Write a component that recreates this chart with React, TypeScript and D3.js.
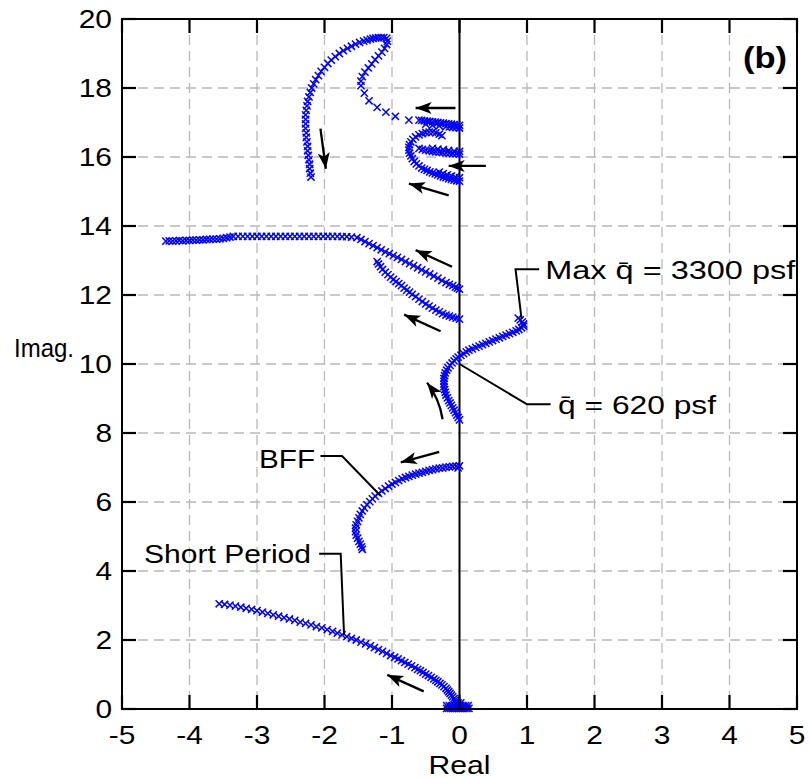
import React from 'react';
import * as d3 from 'd3';

type P = [number, number];

const xTicks = [-5, -4, -3, -2, -1, 0, 1, 2, 3, 4, 5];
const yTicks = [0, 2, 4, 6, 8, 10, 12, 14, 16, 18, 20];
const xTickLabels = ['-5', '-4', '-3', '-2', '-1', '0', '1', '2', '3', '4', '5'];
const yTickLabels = ['0', '2', '4', '6', '8', '10', '12', '14', '16', '18', '20'];

// Short period locus
const shortPeriod: P[] = [
  [-3.56, 3.05], [-3.48, 3.03], [-3.40, 3.01], [-3.32, 2.98], [-3.24, 2.95], [-3.16, 2.92], [-3.08, 2.89],
  [-3.00, 2.85], [-2.92, 2.81], [-2.84, 2.77], [-2.76, 2.73], [-2.68, 2.69], [-2.60, 2.65], [-2.52, 2.61],
  [-2.44, 2.57], [-2.36, 2.52], [-2.28, 2.48], [-2.20, 2.44], [-2.12, 2.39], [-2.04, 2.35], [-1.96, 2.30],
  [-1.88, 2.25], [-1.81, 2.20], [-1.74, 2.15], [-1.67, 2.10], [-1.60, 2.05], [-1.53, 2.00], [-1.46, 1.94],
  [-1.39, 1.89], [-1.32, 1.83], [-1.26, 1.78], [-1.20, 1.72], [-1.14, 1.67], [-1.08, 1.61], [-1.02, 1.55],
  [-0.96, 1.50], [-0.91, 1.45], [-0.86, 1.40], [-0.81, 1.35], [-0.76, 1.30], [-0.71, 1.25], [-0.66, 1.20],
  [-0.62, 1.15], [-0.58, 1.11], [-0.54, 1.06], [-0.50, 1.01], [-0.46, 0.97], [-0.42, 0.92], [-0.38, 0.87],
  [-0.35, 0.83], [-0.32, 0.79], [-0.29, 0.74], [-0.26, 0.70], [-0.23, 0.65], [-0.20, 0.60], [-0.18, 0.55],
  [-0.16, 0.50], [-0.14, 0.45], [-0.12, 0.40], [-0.10, 0.35], [-0.08, 0.30], [-0.07, 0.25], [-0.05, 0.20],
  [-0.04, 0.15], [-0.03, 0.11], [-0.02, 0.07], [-0.01, 0.04],
];

// Cluster of roots sitting on the real axis near the origin
const originCluster: P[] = [
  [-0.19, 0.02], [-0.16, 0.02], [-0.13, 0.02], [-0.10, 0.02], [-0.07, 0.02], [-0.04, 0.02], [-0.01, 0.02],
  [0.02, 0.02], [0.05, 0.02], [0.08, 0.02], [0.11, 0.02], [0.14, 0.02],
  [-0.19, 0.10], [-0.15, 0.10], [-0.11, 0.10], [-0.07, 0.10], [-0.03, 0.10], [0.01, 0.10], [0.05, 0.10],
  [0.09, 0.10], [0.13, 0.10], [-0.06, 0.18], [-0.02, 0.18], [0.02, 0.18],
];

// BFF locus
const bff: P[] = [
  [0.00, 7.05], [-0.02, 6.99], [-0.05, 7.04], [-0.10, 7.03], [-0.15, 7.02], [-0.20, 7.01], [-0.25, 6.99],
  [-0.30, 6.98], [-0.35, 6.96], [-0.40, 6.94], [-0.45, 6.92], [-0.50, 6.89], [-0.55, 6.86], [-0.60, 6.84],
  [-0.65, 6.81], [-0.70, 6.78], [-0.75, 6.74], [-0.80, 6.71], [-0.85, 6.67], [-0.90, 6.62], [-0.95, 6.57],
  [-1.00, 6.52], [-1.05, 6.46], [-1.10, 6.39], [-1.15, 6.32], [-1.20, 6.25], [-1.25, 6.17], [-1.29, 6.09],
  [-1.33, 6.01], [-1.37, 5.92], [-1.41, 5.83], [-1.44, 5.74], [-1.47, 5.64], [-1.49, 5.54], [-1.51, 5.44],
  [-1.53, 5.34], [-1.54, 5.24], [-1.54, 5.14], [-1.53, 5.04], [-1.51, 4.95], [-1.49, 4.86], [-1.47, 4.78],
  [-1.45, 4.70], [-1.44, 4.63],
];

// Mode that crosses into the right half plane (q-bar 620 psf -> 3300 psf)
const qbarMode: P[] = [
  [0.00, 8.38], [-0.02, 8.45], [-0.04, 8.52], [-0.06, 8.59], [-0.08, 8.66], [-0.10, 8.73], [-0.12, 8.80],
  [-0.14, 8.87], [-0.16, 8.94], [-0.18, 9.02], [-0.20, 9.10], [-0.21, 9.18], [-0.22, 9.26], [-0.23, 9.34],
  [-0.23, 9.42], [-0.23, 9.50], [-0.23, 9.58], [-0.22, 9.66], [-0.21, 9.74], [-0.19, 9.82], [-0.17, 9.89],
  [-0.14, 9.96], [-0.11, 10.03], [-0.08, 10.09], [-0.05, 10.15], [-0.02, 10.20], [0.02, 10.25], [0.06, 10.30],
  [0.10, 10.35], [0.14, 10.40], [0.19, 10.44], [0.24, 10.48], [0.29, 10.52], [0.34, 10.56], [0.39, 10.60],
  [0.44, 10.64], [0.49, 10.68], [0.54, 10.72], [0.59, 10.76], [0.64, 10.80], [0.69, 10.84], [0.74, 10.88],
  [0.79, 10.92], [0.84, 10.96], [0.88, 11.00], [0.92, 11.05], [0.95, 11.10], [0.95, 11.16], [0.93, 11.22],
  [0.90, 11.28], [0.87, 11.33],
];

// Upper mode near 12-14
const mode12a: P[] = [
  [-4.35, 13.56], [-4.30, 13.57], [-4.25, 13.56], [-4.20, 13.57], [-4.15, 13.58], [-4.10, 13.57], [-4.05, 13.58],
  [-4.00, 13.58], [-3.95, 13.59], [-3.90, 13.59], [-3.85, 13.60], [-3.80, 13.60], [-3.75, 13.61], [-3.70, 13.61],
  [-3.65, 13.62], [-3.60, 13.62], [-3.55, 13.63], [-3.50, 13.64], [-3.45, 13.66], [-3.40, 13.68], [-3.35, 13.70],
  [-3.28, 13.70], [-3.21, 13.70], [-3.14, 13.70], [-3.07, 13.70], [-3.00, 13.70], [-2.93, 13.70], [-2.86, 13.70],
  [-2.79, 13.70], [-2.72, 13.70], [-2.65, 13.70], [-2.58, 13.70], [-2.51, 13.70], [-2.44, 13.70], [-2.37, 13.70],
  [-2.30, 13.70], [-2.23, 13.70], [-2.16, 13.70], [-2.09, 13.70], [-2.02, 13.70], [-1.95, 13.70], [-1.88, 13.70],
  [-1.81, 13.70], [-1.74, 13.69], [-1.67, 13.69], [-1.60, 13.68], [-1.52, 13.66],
  [-1.46, 13.61], [-1.40, 13.55], [-1.34, 13.49], [-1.28, 13.43], [-1.22, 13.37], [-1.16, 13.31], [-1.10, 13.25],
  [-1.04, 13.20], [-0.98, 13.14], [-0.92, 13.09], [-0.86, 13.03], [-0.80, 12.97], [-0.74, 12.91], [-0.68, 12.85],
  [-0.62, 12.79], [-0.56, 12.73], [-0.50, 12.67], [-0.44, 12.61], [-0.38, 12.55], [-0.32, 12.49], [-0.26, 12.42],
  [-0.20, 12.36], [-0.15, 12.31], [-0.10, 12.27], [-0.06, 12.23], [-0.03, 12.20], [0.00, 12.17],
];

// Lower mode near 11-13
const mode12b: P[] = [
  [-1.22, 12.97], [-1.20, 12.90], [-1.17, 12.82], [-1.14, 12.74], [-1.10, 12.66], [-1.06, 12.59], [-1.02, 12.52],
  [-0.98, 12.45], [-0.94, 12.39], [-0.90, 12.33], [-0.86, 12.27], [-0.82, 12.20], [-0.78, 12.14], [-0.74, 12.08],
  [-0.70, 12.02], [-0.65, 11.95], [-0.60, 11.88], [-0.55, 11.81], [-0.50, 11.74], [-0.45, 11.68], [-0.40, 11.62],
  [-0.35, 11.56], [-0.30, 11.51], [-0.25, 11.46], [-0.20, 11.42], [-0.15, 11.39], [-0.10, 11.36], [-0.05, 11.33],
  [0.00, 11.30],
];

// Top mode: band at 17, tail, inner branch, peak and outer arc
const mode16a: P[] = [
  [0.00, 16.92], [-0.04, 16.93], [-0.08, 16.94], [-0.12, 16.95], [-0.16, 16.96], [-0.20, 16.97], [-0.24, 16.98],
  [-0.28, 16.99], [-0.32, 17.00], [-0.36, 17.01], [-0.40, 17.02], [-0.44, 17.03], [-0.48, 17.04], [-0.52, 17.05],
  [-0.56, 17.06], [-0.60, 17.07], [0.00, 16.84], [-0.05, 16.85], [-0.10, 16.86], [-0.15, 16.87], [-0.20, 16.88],
  [-0.30, 16.90], [-0.40, 16.92], [-0.50, 16.95],
  [-0.75, 17.07], [-0.95, 17.18], [-1.09, 17.30], [-1.22, 17.44], [-1.34, 17.63], [-1.41, 17.85], [-1.46, 18.07],
  [-1.46, 18.20], [-1.44, 18.33], [-1.40, 18.46], [-1.35, 18.58], [-1.30, 18.70], [-1.25, 18.82], [-1.20, 18.93],
  [-1.15, 19.04], [-1.11, 19.15], [-1.08, 19.26], [-1.07, 19.36],
  [-1.08, 19.44], [-1.12, 19.46], [-1.16, 19.46], [-1.20, 19.46], [-1.24, 19.45], [-1.28, 19.44], [-1.32, 19.42],
  [-1.37, 19.39], [-1.42, 19.36], [-1.48, 19.32], [-1.54, 19.27], [-1.60, 19.21], [-1.66, 19.15], [-1.72, 19.08],
  [-1.78, 19.00], [-1.84, 18.91], [-1.90, 18.81], [-1.95, 18.71], [-2.00, 18.60], [-2.05, 18.48], [-2.09, 18.36],
  [-2.13, 18.24], [-2.16, 18.12], [-2.19, 18.00], [-2.21, 17.87], [-2.23, 17.74], [-2.25, 17.61], [-2.26, 17.48],
  [-2.27, 17.35], [-2.28, 17.22], [-2.28, 17.09], [-2.28, 16.96], [-2.28, 16.83], [-2.27, 16.70], [-2.27, 16.57],
  [-2.26, 16.44], [-2.25, 16.31], [-2.25, 16.18], [-2.24, 16.05], [-2.23, 15.92], [-2.22, 15.79], [-2.22, 15.66],
  [-2.21, 15.53], [-2.20, 15.42],
];

// C-shaped mode from 15.3 curling up to 16.7
const mode16b: P[] = [
  [0.00, 15.30], [-0.04, 15.31], [-0.08, 15.33], [-0.12, 15.35], [-0.16, 15.37], [-0.20, 15.40], [-0.24, 15.42],
  [-0.28, 15.45], [-0.32, 15.48], [-0.36, 15.51], [-0.40, 15.54], [-0.44, 15.57], [-0.48, 15.61], [-0.52, 15.64],
  [-0.56, 15.68], [-0.60, 15.74], [-0.64, 15.80], [-0.67, 15.87], [-0.70, 15.95], [-0.72, 16.03], [-0.74, 16.11],
  [-0.75, 16.20], [-0.75, 16.28], [-0.74, 16.36], [-0.72, 16.44], [-0.69, 16.51], [-0.65, 16.58], [-0.60, 16.64],
  [-0.55, 16.68], [-0.50, 16.71], [-0.45, 16.72], [-0.40, 16.72], [-0.35, 16.70], [-0.30, 16.66], [-0.26, 16.62],
  [0.00, 15.40], [-0.06, 15.42], [-0.12, 15.45], [-0.18, 15.48], [-0.24, 15.52], [-0.30, 15.56],
];

// Horizontal band at 16.1
const mode16c: P[] = [
  [0.00, 16.08], [-0.05, 16.09], [-0.10, 16.10], [-0.15, 16.11], [-0.20, 16.12], [-0.25, 16.13], [-0.30, 16.14],
  [-0.35, 16.15], [-0.40, 16.16], [-0.45, 16.18], [-0.50, 16.20], [-0.55, 16.22], [-0.60, 16.25],
  [0.00, 16.16], [-0.08, 16.17], [-0.16, 16.19], [-0.24, 16.21], [-0.32, 16.23], [-0.40, 16.25],
];

const loci: P[][] = [shortPeriod, originCluster, bff, qbarMode, mode12a, mode12b, mode16a, mode16b, mode16c];

// Direction arrows (tail -> head), in data units
const arrowTails: P[] = [
  [-0.06, 17.42], [0.39, 15.74], [-0.16, 14.89], [-2.06, 16.82], [-0.11, 12.82], [-0.28, 10.95],
  [-0.30, 7.45], [-0.53, 0.51],
];
const arrowHeads: P[] = [
  [-0.65, 17.42], [-0.16, 15.74], [-0.75, 15.23], [-1.98, 15.66], [-0.65, 13.30], [-0.82, 11.43],
  [-0.87, 7.15], [-1.07, 0.99],
];
// curved arrow near q-bar 620 (tail, control, head)
const curvedArrow: P[] = [[-0.25, 8.40], [-0.30, 9.00], [-0.48, 9.46]];

// Annotation leader lines
const leaderMax: P[] = [[0.92, 11.30], [0.83, 12.75], [1.18, 12.75]];
const leader620: P[] = [[0.0, 10.0], [1.0, 8.83], [1.35, 8.83]];
const leaderBFF: P[] = [[-2.06, 7.33], [-1.74, 7.33], [-1.17, 6.18]];
const leaderSP: P[] = [[-2.08, 4.5], [-1.76, 4.5], [-1.71, 2.14]];

const labelTexts = ['Max q\u0304 =  3300 psf', 'q\u0304 = 620 psf', 'BFF', 'Short Period'];
const labelAnchors: P[] = [[1.27, 12.45], [1.46, 8.55], [-2.14, 7.0], [-2.2, 4.22]];
const labelAlign = ['start', 'start', 'end', 'end'];
const labelWidths = [250, 158, 56, 167];

const FONT = '"Liberation Sans", Arial, Helvetica, sans-serif';
const BLUE = '#0000ff';

export default function App() {
  const W = 809, H = 779;
  const L = 122, R = 797, T = 19, B = 709;
  const x = d3.scaleLinear().domain([-5, 5]).range([L, R]);
  const y = d3.scaleLinear().domain([0, 20]).range([B, T]);
  const line = d3.line<P>().x(d => x(d[0])).y(d => y(d[1]));
  const tickLen = 14;
  const s = 3.6;
  const xMark = `M${-s},${-s}L${s},${s}M${-s},${s}L${s},${-s}`;

  const arrowPath = (a: P, b: P) => {
    const x1 = x(a[0]), y1 = y(a[1]), x2 = x(b[0]), y2 = y(b[1]);
    return `M${x1},${y1}L${x2},${y2}`;
  };
  const head = (from: [number, number], to: [number, number], key: string) => {
    const ang = Math.atan2(to[1] - from[1], to[0] - from[0]);
    const len = 16, w = 6;
    const bx = to[0] - len * Math.cos(ang), by = to[1] - len * Math.sin(ang);
    const nx = -Math.sin(ang), ny = Math.cos(ang);
    const ix = to[0] - len * 0.75 * Math.cos(ang), iy = to[1] - len * 0.75 * Math.sin(ang);
    const d = `M${to[0]},${to[1]}L${bx + nx * w},${by + ny * w}L${ix},${iy}L${bx - nx * w},${by - ny * w}Z`;
    return <path key={key} d={d} fill="#000" />;
  };

  const cp = curvedArrow.map(p => [x(p[0]), y(p[1])] as [number, number]);

  return (
    <svg width={W} height={H} style={{ position: 'absolute', left: 0, top: 0, background: '#fff' }}
      fontFamily={FONT}>
      <rect x={0} y={0} width={W} height={H} fill="#fff" />
      {/* grid */}
      <g stroke="#b8b8b8" strokeWidth={1.3} strokeDasharray="10,6">
        {xTicks.filter(v => v !== -5 && v !== 5 && v !== 0).map(v => (
          <line key={'gx' + v} x1={x(v)} x2={x(v)} y1={T} y2={B} />
        ))}
        {yTicks.filter(v => v !== 0 && v !== 20).map(v => (
          <line key={'gy' + v} x1={L} x2={R} y1={y(v)} y2={y(v)} />
        ))}
      </g>
      {/* zero line */}
      <line x1={x(0)} x2={x(0)} y1={T} y2={B} stroke="#000" strokeWidth={2} />
      {/* markers */}
      <g stroke={BLUE} strokeWidth={1.5} fill="none">
        {loci.map((pts, i) => pts.map((p, j) => (
          <path key={`m${i}-${j}`} d={xMark} transform={`translate(${x(p[0])},${y(p[1])})`} />
        )))}
      </g>
      {/* arrows */}
      <g stroke="#000" strokeWidth={2.3} fill="none">
        {arrowTails.map((t, i) => {
          const h = arrowHeads[i];
          return <path key={'a' + i} d={arrowPath(t, h)} />;
        })}
        <path d={`M${cp[0][0]},${cp[0][1]}Q${cp[1][0]},${cp[1][1]} ${cp[2][0]},${cp[2][1]}`} />
      </g>
      {arrowTails.map((t, i) => {
        const h = arrowHeads[i];
        return head([x(t[0]), y(t[1])], [x(h[0]), y(h[1])], 'h' + i);
      })}
      {head(cp[1], cp[2], 'hc')}
      {/* leader lines */}
      <g stroke="#000" strokeWidth={2} fill="none">
        {[leaderMax, leader620, leaderBFF, leaderSP].map((ld, i) => (
          <path key={'l' + i} d={line(ld) || ''} />
        ))}
      </g>
      {/* annotation labels */}
      {labelTexts.map((t, i) => (
        <text key={'t' + i} x={x(labelAnchors[i][0])} y={y(labelAnchors[i][1])} fontSize={26}
          textAnchor={labelAlign[i] as any} textLength={labelWidths[i]} lengthAdjust="spacingAndGlyphs"
          fill="#000">{t}</text>
      ))}
      {/* axes frame */}
      <rect x={L} y={T} width={R - L} height={B - T} fill="none" stroke="#000" strokeWidth={2} />
      <g stroke="#000" strokeWidth={2.2}>
        {xTicks.map(v => (
          <g key={'tx' + v}>
            <line x1={x(v)} x2={x(v)} y1={B} y2={B - tickLen} />
            <line x1={x(v)} x2={x(v)} y1={T} y2={T + tickLen} />
          </g>
        ))}
        {yTicks.map(v => (
          <g key={'ty' + v}>
            <line x1={L} x2={L + tickLen} y1={y(v)} y2={y(v)} />
            <line x1={R} x2={R - tickLen} y1={y(v)} y2={y(v)} />
          </g>
        ))}
      </g>
      {/* tick labels */}
      {xTicks.map((v, i) => (
        <text key={'xl' + v} transform={`translate(${x(v)},744) scale(1.15,1)`} textAnchor="middle"
          fontSize={26} fill="#000">{xTickLabels[i]}</text>
      ))}
      {yTicks.map((v, i) => (
        <text key={'yl' + v} transform={`translate(112,${y(v) + 9}) scale(1.15,1)`} textAnchor="end"
          fontSize={26} fill="#000">{yTickLabels[i]}</text>
      ))}
      <text x={x(0)} y={774} textAnchor="middle" fontSize={26} textLength={62} lengthAdjust="spacingAndGlyphs">Real</text>
      <text x={14} y={357} fontSize={25} textLength={60} lengthAdjust="spacingAndGlyphs">Imag.</text>
      <text transform="translate(765,68) scale(1.15,1)" textAnchor="middle" fontSize={30} fontWeight="bold">(b)</text>
    </svg>
  );
}
